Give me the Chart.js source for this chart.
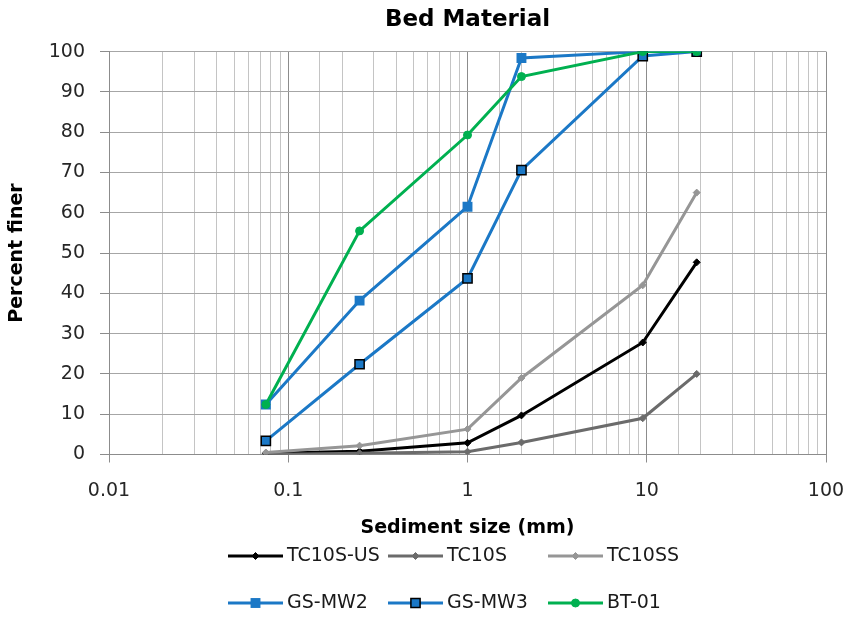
<!DOCTYPE html>
<html>
<head>
<meta charset="utf-8">
<script src="https://cdn.jsdelivr.net/npm/chart.js@4.4.1/dist/chart.umd.min.js"></script>
<style>
  html, body { margin: 0; padding: 0; background: #ffffff; }
  #wrap { position: relative; width: 851px; height: 618px; }
</style>
</head>
<body>
<div id="wrap"><canvas id="c" width="851" height="618"></canvas></div>
<script>
// ---- data ----
const sizesMm = [0.075, 0.25, 1, 2, 9.5, 19];
const seriesNames = ['TC10S-US', 'TC10S', 'TC10SS', 'GS-MW2', 'GS-MW3', 'BT-01'];
const tc10sUs = [0.3, 0.8, 2.9, 9.7, 27.8, 47.7];
const tc10s   = [0.0, 0.3, 0.7, 3.0, 9.0, 20.0];
const tc10ss  = [0.5, 2.2, 6.3, 19.0, 42.0, 65.0];
const gsMw2   = [12.4, 38.2, 61.5, 98.4, 100, 100];
const gsMw3   = [3.4, 22.4, 43.7, 70.6, 98.9, 100];
const bt01    = [12.4, 55.5, 79.3, 93.8, 100, 100];
const xTickLabels = ['0.01', '0.1', '1', '10', '100'];
const yTicks = [0, 10, 20, 30, 40, 50, 60, 70, 80, 90, 100];

// ---- styles ----
const FONT = 'DejaVu Sans';
const styles = [
  { color: '#000000', point: 'rectRot', r: 3.5, fill: '#000000', border: '#000000', bw: 1 },
  { color: '#6b6b6b', point: 'rectRot', r: 3.5, fill: '#6b6b6b', border: '#6b6b6b', bw: 1 },
  { color: '#969696', point: 'rectRot', r: 3.5, fill: '#969696', border: '#969696', bw: 1 },
  { color: '#1b78c6', point: 'rect',    r: 7,   fill: '#1b78c6', border: '#1b78c6', bw: 0 },
  { color: '#1b78c6', point: 'rect',    r: 6.5, fill: '#1b78c6', border: '#000000', bw: 1.5 },
  { color: '#00b050', point: 'circle',  r: 4,   fill: '#00b050', border: '#00b050', bw: 1 }
];
const allValues = [tc10sUs, tc10s, tc10ss, gsMw2, gsMw3, bt01];

const datasets = allValues.map((vals, i) => ({
  label: seriesNames[i],
  data: sizesMm.map((x, j) => ({ x: x, y: vals[j] })),
  borderColor: styles[i].color,
  backgroundColor: styles[i].fill,
  pointBackgroundColor: styles[i].fill,
  pointBorderColor: styles[i].border,
  pointBorderWidth: styles[i].bw,
  pointStyle: styles[i].point,
  pointRadius: styles[i].r,
  pointHoverRadius: styles[i].r,
  borderWidth: 3,
  tension: 0,
  fill: false,
  order: allValues.length - i
}));

function isDecade(v) {
  const l = Math.log10(v);
  return Math.abs(l - Math.round(l)) < 1e-6;
}

const legendPlugin = {
  id: 'gridLegend',
  afterDraw(chart) {
    const ctx = chart.ctx;
    const colLine = [228, 388, 548];
    const rowY = [556, 603];
    const lineLen = 55;
    ctx.save();
    seriesNames.forEach((name, i) => {
      const col = i % 3, row = Math.floor(i / 3);
      const x0 = colLine[col], y = rowY[row];
      const s = styles[i];
      ctx.strokeStyle = s.color;
      ctx.lineWidth = 3;
      ctx.beginPath();
      ctx.moveTo(x0, y);
      ctx.lineTo(x0 + lineLen, y);
      ctx.stroke();
      ctx.fillStyle = s.fill;
      ctx.strokeStyle = s.border;
      ctx.lineWidth = s.bw;
      Chart.helpers.drawPoint(ctx, { pointStyle: s.point, radius: s.r, rotation: 0, borderWidth: s.bw }, x0 + lineLen / 2, y);
      ctx.fillStyle = '#1a1a1a';
      ctx.font = '19px "' + FONT + '"';
      ctx.textBaseline = 'middle';
      ctx.textAlign = 'left';
      ctx.fillText(name, x0 + lineLen + 4, y);
    });
    ctx.restore();
  }
};

new Chart(document.getElementById('c'), {
  type: 'line',
  data: { datasets: datasets },
  plugins: [legendPlugin],
  options: {
    responsive: false,
    animation: false,
    events: [],
    layout: { padding: { left: 0, right: 25, top: 0, bottom: 75 } },
    plugins: {
      legend: { display: false },
      tooltip: { enabled: false },
      title: {
        display: true,
        fullSize: false,
        text: 'Bed Material',
        color: '#000000',
        font: { family: FONT, size: 23, weight: 'bold', lineHeight: 1.2 },
        padding: { top: 6, bottom: 18 }
      }
    },
    scales: {
      x: {
        type: 'logarithmic',
        min: 0.01,
        max: 100,
        border: { display: true, color: '#8c8c8c', width: 1 },
        grid: {
          color: (c) => (c.tick && isDecade(c.tick.value)) ? '#8c8c8c' : '#c4c4c4',
          lineWidth: 1,
          tickLength: 8,
          drawTicks: true,
          tickColor: (c) => (c.tick && isDecade(c.tick.value)) ? '#8c8c8c' : 'rgba(0,0,0,0)'
        },
        ticks: {
          autoSkip: false,
          maxRotation: 0,
          minRotation: 0,
          padding: 17,
          color: '#262626',
          font: { family: FONT, size: 19 },
          callback: (v) => isDecade(v) ? xTickLabels[Math.round(Math.log10(v)) + 2] : ''
        },
        title: {
          display: true,
          text: 'Sediment size (mm)',
          color: '#000000',
          font: { family: FONT, size: 19, weight: 'bold', lineHeight: 1.2 },
          padding: { top: 4, bottom: 4 }
        },
        afterFit: (s) => { s.height = 88.5; s.paddingLeft = 0; s.paddingRight = 0; }
      },
      y: {
        type: 'linear',
        min: 0,
        max: 100,
        afterBuildTicks: (s) => { s.ticks = yTicks.map(v => ({ value: v })); },
        border: { display: true, color: '#8c8c8c', width: 1 },
        grid: { color: '#a6a6a6', lineWidth: 1, tickLength: 9, tickColor: '#8c8c8c' },
        ticks: {
          padding: 15,
          color: '#262626',
          font: { family: FONT, size: 19 }
        },
        title: {
          display: true,
          text: 'Percent finer',
          color: '#000000',
          font: { family: FONT, size: 19, weight: 'bold', lineHeight: 1.2 },
          padding: { top: 6, bottom: 4 }
        },
        afterFit: (s) => { s.width = 109; }
      }
    }
  }
});
</script>
</body>
</html>
